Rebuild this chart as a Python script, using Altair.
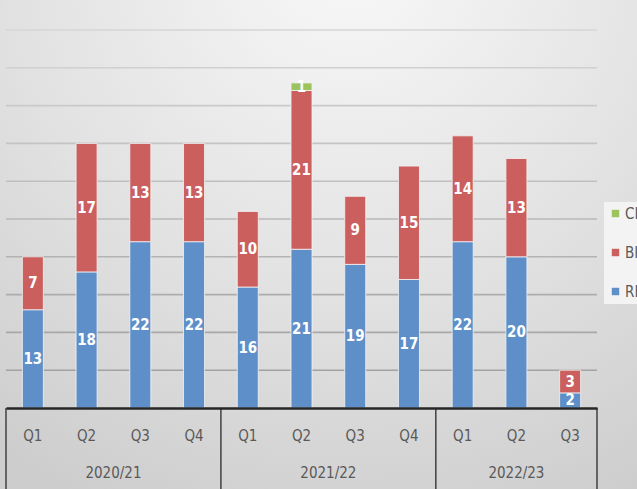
import altair as alt
import pandas as pd

quarters = ["Q1", "Q2", "Q3", "Q4", "Q1", "Q2", "Q3", "Q4", "Q1", "Q2", "Q3"]
years = ["2020/21"] * 4 + ["2021/22"] * 4 + ["2022/23"] * 3
rfi = [13, 18, 22, 22, 16, 21, 19, 17, 22, 20, 2]
bhi = [7, 17, 13, 13, 10, 21, 9, 15, 14, 13, 3]
cfi = [0, 0, 0, 0, 0, 1, 0, 0, 0, 0, 0]
series_names = ["RFI", "BHI", "CFI"]
legend_order = ["CFI", "BHI", "RFI"]
grid_values = [5, 10, 15, 20, 25, 30, 35, 40, 45, 50]
year_labels = ["2020/21", "2021/22", "2022/23"]

keys = [f"{y} {q}" for y, q in zip(years, quarters)]

rows = []
for i, k in enumerate(keys):
    for order, (name, vals) in enumerate(zip(series_names, [rfi, bhi, cfi])):
        rows.append({"key": k, "series": name, "value": vals[i], "order": order})
df = pd.DataFrame(rows)

FONT = "DejaVu Sans Condensed, sans-serif"
W, H = 591, 378

xscale = alt.Scale(domain=keys, paddingInner=0, paddingOuter=0)
yscale = alt.Scale(domain=[0, 50], nice=False, zero=True)

# background gradient
bg = alt.Chart(pd.DataFrame({"a": [0]})).mark_rect(
    color=alt.Gradient(
        gradient="radial",
        stops=[
            alt.GradientStop(offset=0, color="#f8f8f8"),
            alt.GradientStop(offset=0.55, color="#e2e2e2"),
            alt.GradientStop(offset=1, color="#cdcdcd"),
        ],
        x1=0.55, y1=0.05, x2=0.55, y2=0.05, r1=0, r2=0.95,
    )
).encode(x=alt.value(-6), x2=alt.value(631), y=alt.value(-30), y2=alt.value(459))

grid = alt.Chart(pd.DataFrame({"v": grid_values})).mark_rule(strokeWidth=1.6).encode(
    y=alt.Y("v:Q", scale=yscale, axis=None),
    x=alt.value(0), x2=alt.value(W),
    stroke=alt.Stroke("v:Q", scale=alt.Scale(domain=[5, 50], range=["#a2a2a2", "#d6d6d6"]), legend=None),
)

base = alt.Chart(df).transform_filter("datum.value > 0").transform_stack(
    stack="value", groupby=["key"], sort=[alt.SortField("order", order="ascending")], as_=["y0", "y1"]
).transform_calculate(mid="(datum.y0 + datum.y1) / 2")

bars = base.mark_bar(size=21, stroke="#f4f4f4", strokeWidth=1, strokeOpacity=0.8).encode(
    x=alt.X("key:N", scale=xscale, title=None,
            axis=alt.Axis(labelExpr="split(datum.label, ' ')[1]", ticks=False, grid=False,
                          domainColor="#262626", domainWidth=2.5, labelAngle=0,
                          labelFont=FONT, labelFontSize=15, labelColor="#595959",
                          labelBaseline="middle", labelPadding=27, zindex=1)),
    y=alt.Y("y1:Q", scale=yscale, axis=None),
    y2="y0:Q",
    color=alt.Color("series:N", scale=alt.Scale(domain=legend_order, range=["#9dc35d", "#cb5f5e", "#5e8fc9"]),
                    legend=alt.Legend(title=None, orient="none", legendX=598, legendY=172,
                                      fillColor="#f3f3f3", padding=4, rowPadding=23,
                                      symbolType="square", symbolSize=55, symbolStrokeWidth=0,
                                      labelFont=FONT, labelFontSize=15, labelColor="#595959",
                                      labelOffset=2)),
)

labels = base.mark_text(color="white", font=FONT, fontWeight="bold", fontSize=15, baseline="middle").encode(
    x=alt.X("key:N", scale=xscale),
    y=alt.Y("mid:Q", scale=yscale, axis=None),
    text="value:Q",
)

ydf = pd.DataFrame({"year": year_labels, "anchor": ["2020/21 Q2", "2021/22 Q2", "2022/23 Q2"]})
year_a = alt.Chart(ydf).transform_filter("datum.year != '2022/23'").mark_text(
    font=FONT, fontSize=15, color="#595959", baseline="middle").encode(
    x=alt.X("anchor:N", scale=xscale, bandPosition=1), y=alt.value(443), text="year:N")
year_b = alt.Chart(ydf).transform_filter("datum.year == '2022/23'").mark_text(
    font=FONT, fontSize=15, color="#595959", baseline="middle").encode(
    x=alt.X("anchor:N", scale=xscale, bandPosition=0.5), y=alt.value(443), text="year:N")

sdf = pd.DataFrame({"start": ["2020/21 Q1", "2021/22 Q1", "2022/23 Q1"]})
sep_a = alt.Chart(sdf).mark_rule(color="#404040", strokeWidth=1.5).encode(
    x=alt.X("start:N", scale=xscale, bandPosition=0), y=alt.value(H), y2=alt.value(462))
sep_b = alt.Chart(pd.DataFrame({"end": [keys[-1]]})).mark_rule(color="#404040", strokeWidth=1.5).encode(
    x=alt.X("end:N", scale=xscale, bandPosition=1), y=alt.value(H), y2=alt.value(462))

chart = alt.layer(bg, grid, bars, labels, year_a, year_b, sep_a, sep_b).properties(
    width=W, height=H,
    padding={"left": 6, "top": 30, "right": 40, "bottom": 81},
    autosize=alt.AutoSizeParams(type="none"),
    background="#e0e0e0",
).configure_view(stroke=None)

chart.save("out.html", embed_options={"renderer": "svg", "actions": False})
